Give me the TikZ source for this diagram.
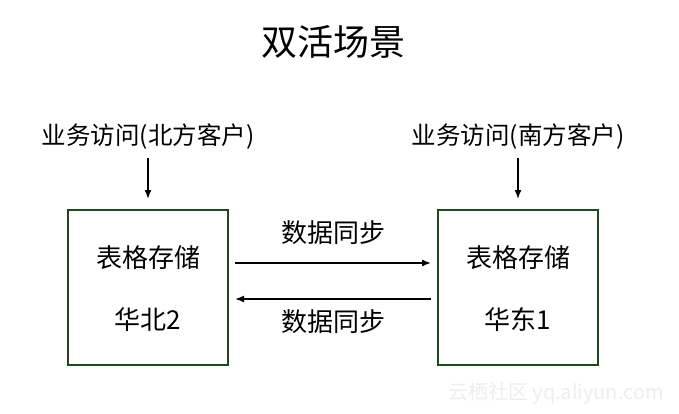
\documentclass[tikz,border=0pt]{standalone}
\usepackage{fontspec}
\setmainfont{Noto Sans CJK SC}
\usetikzlibrary{arrows.meta}
\definecolor{boxgreen}{HTML}{1E4A1E}
\tikzset{
  storebox/.style={draw=boxgreen, line width=2pt, minimum width=160pt, minimum height=155pt, inner sep=0pt},
  lbl/.style={inner sep=0pt, font=\fontsize{24.5}{28}\selectfont},
  boxlbl/.style={inner sep=0pt, font=\fontsize{26}{30}\selectfont},
  arr/.style={line width=1.6pt, -{Latex[length=9pt,width=7pt]}},
}
\begin{document}
\begin{tikzpicture}[x=1pt,y=-1pt]
\useasboundingbox (0,0) rectangle (679,414);
\node[inner sep=0pt, font=\fontsize{36}{40}\selectfont] (title) at (333,42) {双活场景};
\node[lbl] (acc1) at (148,137) {业务访问(北方客户)};
\node[lbl] (acc2) at (518,137) {业务访问(南方客户)};
\node[storebox] (box1) at (148,287.5) {};
\node[storebox] (box2) at (518,287.5) {};
\node[boxlbl] (t1) at (148,258) {表格存储};
\node[boxlbl] (r1) at (148,320) {华北2};
\node[boxlbl] (t2) at (518,258) {表格存储};
\node[boxlbl] (r2) at (518,320) {华东1};
\node[boxlbl] (s1) at (333,233) {数据同步};
\node[boxlbl] (s2) at (333,322) {数据同步};
\draw[arr, shorten <=8pt, shorten >=10pt] (acc1) -- (box1);
\draw[arr, shorten <=8pt, shorten >=10pt] (acc2) -- (box2);
\draw[arr, shorten <=6pt, shorten >=6pt] ([yshift=24.5pt]box1.east) -- ([yshift=24.5pt]box2.west);
\draw[arr, shorten <=6pt, shorten >=6pt] ([yshift=-11.5pt]box2.west) -- ([yshift=-11.5pt]box1.east);
\node[inner sep=0pt, text=black!7, font=\fontsize{20}{24}\selectfont] (wm) at (556,393) {云栖社区 yq.aliyun.com};
\end{tikzpicture}
\end{document}
